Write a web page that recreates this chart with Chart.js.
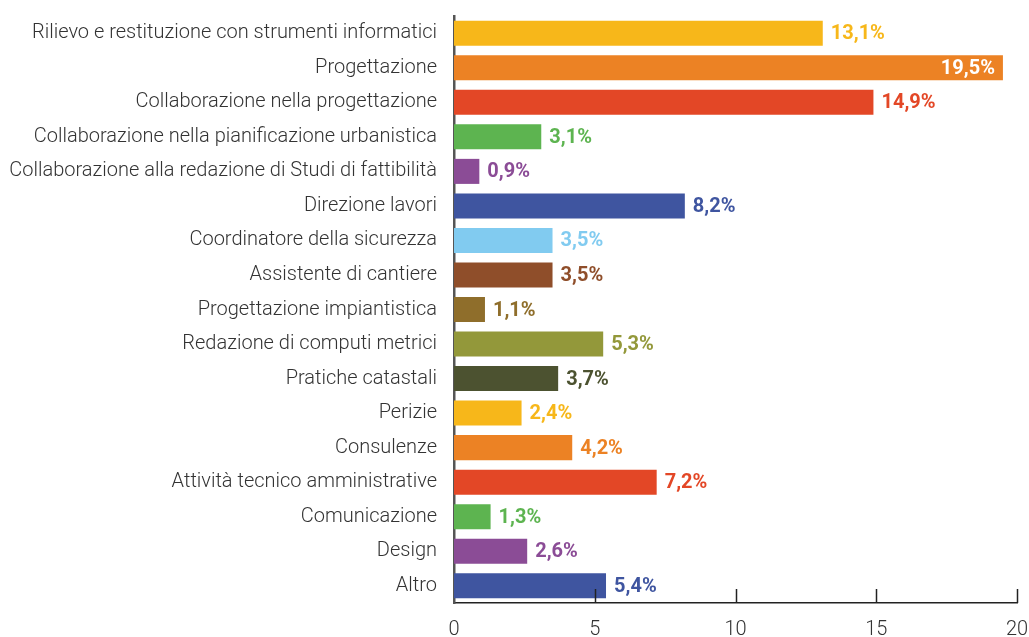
<!DOCTYPE html>
<html>
<head>
<meta charset="utf-8">
<script src="https://cdn.jsdelivr.net/npm/chart.js@4"></script>
<style>
  html, body { margin: 0; padding: 0; background: #fff; }
  #wrap { width: 1029px; height: 637px; }
</style>
</head>
<body>
<div id="wrap"><canvas id="chart"></canvas></div>
<script>
const categories = [
    'Rilievo e restituzione con strumenti informatici',
    'Progettazione',
    'Collaborazione nella progettazione',
    'Collaborazione nella pianificazione urbanistica',
    'Collaborazione alla redazione di Studi di fattibilità',
    'Direzione lavori',
    'Coordinatore della sicurezza',
    'Assistente di cantiere',
    'Progettazione impiantistica',
    'Redazione di computi metrici',
    'Pratiche catastali',
    'Perizie',
    'Consulenze',
    'Attività tecnico amministrative',
    'Comunicazione',
    'Design',
    'Altro'
];
const percentages = [13.1, 19.5, 14.9, 3.1, 0.9, 8.2, 3.5, 3.5, 1.1, 5.3, 3.7, 2.4, 4.2, 7.2, 1.3, 2.6, 5.4];
const barColors = [
    '#F7B71A', '#EC8224', '#E34726', '#5DB450', '#8B4C96', '#3F55A0',
    '#81CBF0', '#8F4E2A', '#8F6E2B', '#93983A', '#4C5230',
    '#F7B71A', '#EC8224', '#E34726', '#5DB450', '#8B4C96', '#3F55A0'
];
const xTicks = [0, 5, 10, 15, 20];

const fontFamily = 'Roboto, "Noto Sans", sans-serif';

// etichette con i valori accanto alle barre
const valueLabels = {
    id: 'valueLabels',
    afterDatasetsDraw(chart) {
        const ctx = chart.ctx;
        const meta = chart.getDatasetMeta(0);
        ctx.save();
        ctx.font = 'bold 20px ' + fontFamily;
        ctx.textBaseline = 'middle';
        meta.data.forEach((bar, i) => {
            const text = percentages[i].toFixed(1).replace('.', ',') + '%';
            const w = ctx.measureText(text).width;
            if (bar.x + 8 + w > chart.chartArea.right) {
                ctx.fillStyle = '#fff';
                ctx.textAlign = 'right';
                ctx.fillText(text, bar.x - 8, bar.y + 1);
            } else {
                ctx.fillStyle = barColors[i];
                ctx.textAlign = 'left';
                ctx.fillText(text, bar.x + 8, bar.y + 1);
            }
        });
        ctx.restore();
    }
};

// tacche dell'asse x verso l'interno
const innerTicks = {
    id: 'innerTicks',
    afterDraw(chart) {
        const ctx = chart.ctx;
        const x = chart.scales.x;
        const bottom = chart.chartArea.bottom;
        ctx.save();
        ctx.strokeStyle = '#222';
        ctx.lineWidth = 1.5;
        xTicks.slice(1).forEach(v => {
            const px = Math.round(x.getPixelForValue(v)) + 0.5;
            ctx.beginPath();
            ctx.moveTo(px, bottom);
            ctx.lineTo(px, bottom - 14);
            ctx.stroke();
        });
        ctx.restore();
    }
};

new Chart(document.getElementById('chart'), {
    type: 'bar',
    data: {
        labels: categories,
        datasets: [{
            data: percentages,
            backgroundColor: barColors,
            categoryPercentage: 1,
            barPercentage: 0.725
        }]
    },
    options: {
        indexAxis: 'y',
        responsive: true,
        maintainAspectRatio: false,
        animation: false,
        layout: { padding: { top: 16, right: 0, left: 0, bottom: 0 } },
        plugins: {
            legend: { display: false },
            tooltip: { enabled: false }
        },
        scales: {
            x: {
                min: 0,
                max: 20,
                afterBuildTicks: scale => { scale.ticks = xTicks.map(v => ({ value: v })); },
                afterFit: scale => {
                    scale.height = 34;
                    scale.paddingLeft = 0;
                    scale.paddingRight = 12;
                },
                grid: { display: false, drawTicks: false },
                border: { display: true, color: '#222', width: 1.5 },
                ticks: {
                    color: '#333',
                    font: { family: fontFamily, size: 20, weight: '300' },
                    padding: 15
                }
            },
            y: {
                afterFit: scale => {
                    scale.width = 454;
                    scale.paddingTop = 0;
                    scale.paddingBottom = 0;
                },
                grid: { display: false, drawTicks: false },
                border: { display: true, color: '#555', width: 2.5 },
                ticks: {
                    color: '#333',
                    font: { family: fontFamily, size: 20, weight: '300' },
                    padding: 17,
                    autoSkip: false
                }
            }
        }
    },
    plugins: [valueLabels, innerTicks]
});
</script>
</body>
</html>
